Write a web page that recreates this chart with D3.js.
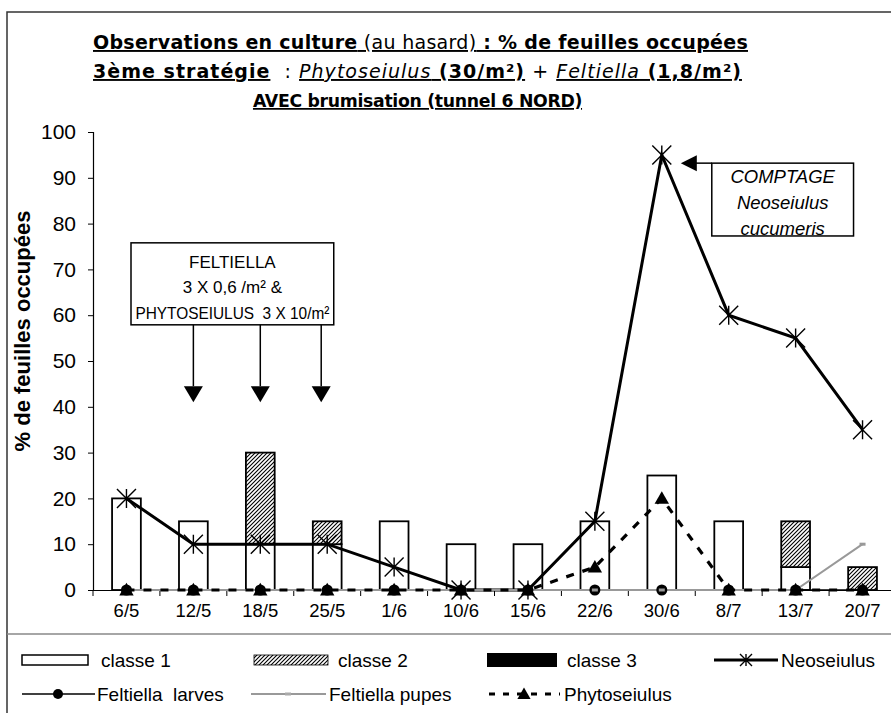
<!DOCTYPE html>
<html><head><meta charset="utf-8">
<script src="https://cdn.jsdelivr.net/npm/d3@7"></script>
<style>body{margin:0;background:#fff;} svg{display:block;} text{white-space:pre;}</style>
</head><body><svg id="chart" width="891" height="713"></svg>
<script>
// ---------- data ----------
const categories = ["6/5","12/5","18/5","25/5","1/6","10/6","15/6","22/6","30/6","8/7","13/7","20/7"];
const classe1 = [20,15,10,10,15,10,10,15,25,15,5,0];
const classe2 = [0,0,20,5,0,0,0,0,0,0,10,5];
const classe3 = [0,0,0,0,0,0,0,0,0,0,0,0];
const neoseiulus = [20,10,10,10,5,0,0,15,95,60,55,35];
const feltiellaLarves = [0,0,0,0,0,0,0,0,0,0,0,0];
const feltiellaPupes = [0,0,0,0,0,0,0,0,0,0,0,10];
const phytoseiulus = [0,0,0,0,0,0,0,5,20,0,0,0];
const yTicks = [0,10,20,30,40,50,60,70,80,90,100];
const legendLabels = ["classe 1","classe 2","classe 3","Neoseiulus","Feltiella  larves","Feltiella pupes","Phytoseiulus"];
const annotFeltiella = ["FELTIELLA","3 X 0,6 /m² &","PHYTOSEIULUS  3 X 10/m²"];
const annotFeltiellaDates = ["12/5","18/5","25/5"];
const annotComptage = ["COMPTAGE","Neoseiulus","cucumeris"];

// ---------- setup ----------
const svg = d3.select("#chart");
const FONT = "'Liberation Sans', Arial, sans-serif";
const plot = {left:93, right:896, top:132, bottom:590};
const x = d3.scaleBand().domain(categories).range([plot.left, plot.right]).paddingInner(0.57).paddingOuter(0.285);
const xb = d3.scaleBand().domain(categories).range([plot.left, plot.right]).padding(0);
const xc = c => xb(c) + xb.bandwidth()/2;
const y = d3.scaleLinear().domain([0,100]).range([plot.bottom, plot.top]);

const defs = svg.append("defs");
const pat = defs.append("pattern").attr("id","hatch").attr("patternUnits","userSpaceOnUse")
  .attr("width",4).attr("height",4);
pat.append("rect").attr("width",4).attr("height",4).attr("fill","#fff");
pat.append("path").attr("d","M-1,1 l2,-2 M0,4 l4,-4 M3,5 l2,-2").attr("stroke","#000").attr("stroke-width",1.1);

// frame
svg.append("rect").attr("x",7).attr("y",12).attr("width",950).attr("height",750)
  .attr("fill","none").attr("stroke","#333").attr("stroke-width",1.5);
svg.append("line").attr("x1",7).attr("x2",891).attr("y1",634).attr("y2",634)
  .attr("stroke","#888").attr("stroke-width",1.5);

// ---------- title ----------
const TFONT = "'DejaVu Sans', sans-serif";
const titleLines = [
  [["Observations en culture",700,"normal",true],[" (au hasard)",400,"normal",true],[" : % de feuilles occupées",700,"normal",true]],
  [["3ème stratégie",700,"normal",true],["  : ",400,"normal",false],["Phytoseiulus",400,"italic",true],[" (30/m²)",700,"normal",true],[" + ",400,"normal",false],["Feltiella",400,"italic",true],[" (1,8/m²)",700,"normal",true]],
  [["AVEC brumisation (tunnel 6 NORD)",700,"normal",true]]
];
const titleWidths = [655, 649, 329];
const titleCenters = [420.5, 417.5, 417.5];
const titleSizes = [19, 19, 17.3];
titleLines.forEach((parts,i)=>{
  const t = svg.append("text").attr("x",titleCenters[i]).attr("y",49+i*29).attr("text-anchor","middle")
    .attr("font-family",TFONT).attr("font-size",titleSizes[i]).attr("fill","#000");
  parts.forEach(p=>{
    t.append("tspan").text(p[0]).attr("font-weight",p[1]).attr("font-style",p[2])
      .attr("text-decoration",p[3]?"underline":"none");
  });
  const len = t.node().getComputedTextLength();
  const n = parts.map(p=>p[0]).join("").length;
  t.attr("letter-spacing", ((titleWidths[i]-len)/n).toFixed(2)+"px");
});

// ---------- bars ----------
const table = categories.map((c,i)=>({cat:c, classe1:classe1[i], classe2:classe2[i], classe3:classe3[i]}));
const stack = d3.stack().keys(["classe1","classe2","classe3"])(table);
const fills = {classe1:"#fff", classe2:"url(#hatch)", classe3:"#000"};
stack.forEach(layer=>{
  svg.append("g").selectAll("rect").data(layer.filter(d=>d[1]-d[0]>0)).join("rect")
    .attr("x",d=>x(d.data.cat)).attr("width",x.bandwidth())
    .attr("y",d=>y(d[1])).attr("height",d=>y(d[0])-y(d[1]))
    .attr("fill",fills[layer.key]).attr("stroke","#000").attr("stroke-width",1.8);
});

// ---------- axes ----------
const yAxis = svg.append("g").attr("transform",`translate(${plot.left},0)`)
  .call(d3.axisLeft(y).tickValues(yTicks).tickSize(5).tickPadding(12));
yAxis.select(".domain").attr("stroke","#000").attr("stroke-width",1.2);
yAxis.selectAll(".tick line").attr("stroke","#000");
yAxis.selectAll("text").attr("font-family",FONT).attr("font-size",21).attr("fill","#000");

const xAxis = svg.append("g").attr("transform",`translate(0,${plot.bottom})`)
  .call(d3.axisBottom(xb).tickSize(0).tickPadding(14).tickSizeOuter(0));
xAxis.select(".domain").attr("stroke","#000").attr("stroke-width",1.2);
xAxis.selectAll("text").attr("font-family",FONT).attr("font-size",18.5).attr("fill","#000");
svg.append("g").selectAll("line").data(categories).join("line")
  .attr("x1",c=>xb(c)).attr("x2",c=>xb(c)).attr("y1",plot.bottom).attr("y2",plot.bottom+6)
  .attr("stroke","#000").attr("stroke-width",1);

svg.append("text").attr("transform",`translate(30,331) rotate(-90)`)
  .attr("text-anchor","middle").attr("font-family",FONT).attr("font-weight","bold")
  .attr("font-size",22).text("% de feuilles occupées");

// ---------- lines ----------
const lineGen = vals => d3.line().x((d,i)=>xc(categories[i])).y(d=>y(d))(vals);
svg.append("path").attr("d",lineGen(neoseiulus)).attr("fill","none").attr("stroke","#000").attr("stroke-width",3);
svg.append("path").attr("d",lineGen(feltiellaLarves)).attr("fill","none").attr("stroke","#000").attr("stroke-width",1.5);
svg.append("path").attr("d",lineGen(feltiellaPupes)).attr("fill","none").attr("stroke","#999").attr("stroke-width",2);
svg.append("path").attr("d",lineGen(phytoseiulus)).attr("fill","none").attr("stroke","#000").attr("stroke-width",3.2).attr("stroke-dasharray","8,9");

// markers
function star(g,cx,cy,r){
  g.append("path").attr("d",`M${cx-r},${cy-r}L${cx+r},${cy+r}M${cx-r},${cy+r}L${cx+r},${cy-r}M${cx},${cy-r}L${cx},${cy+r}`)
   .attr("stroke","#000").attr("stroke-width",1.4).attr("fill","none");
}
function tri(g,cx,cy,s){
  g.append("path").attr("d",`M${cx},${cy-s*0.6}L${cx+s*0.6},${cy+s*0.45}L${cx-s*0.6},${cy+s*0.45}Z`).attr("fill","#000");
}
const mk = svg.append("g");
feltiellaLarves.forEach((v,i)=>mk.append("circle").attr("cx",xc(categories[i])).attr("cy",y(v)).attr("r",5.5).attr("fill","#000"));
feltiellaPupes.forEach((v,i)=>mk.append("rect").attr("x",xc(categories[i])-3).attr("y",y(v)-1.5).attr("width",6).attr("height",3).attr("fill","#999"));
phytoseiulus.forEach((v,i)=>tri(mk,xc(categories[i]),y(v),12));
neoseiulus.forEach((v,i)=>star(mk,xc(categories[i]),y(v),9.5));

// ---------- annotations ----------
const an = svg.append("g").attr("font-family",FONT).attr("fill","#000");
// Feltiella box
const b1 = {x0:xb("6/5")+38, x1:xb("25/5")+40, top:y(75.8), bottom:y(57.9)};
an.append("rect").attr("x",b1.x0).attr("y",b1.top).attr("width",b1.x1-b1.x0).attr("height",b1.bottom-b1.top)
  .attr("fill","#fff").attr("stroke","#000").attr("stroke-width",1.5);
annotFeltiella.forEach((t,i)=>{
  const tx = an.append("text").attr("x",(b1.x0+b1.x1)/2).attr("y",b1.top+25+i*25.5)
    .attr("text-anchor","middle").attr("font-size",17).text(t);
  if (i===2) tx.attr("textLength",194).attr("lengthAdjust","spacingAndGlyphs");
});
annotFeltiellaDates.forEach((c,i)=>{
  const ax = xc(c) - (i===2?6:0);
  an.append("line").attr("x1",ax).attr("x2",ax).attr("y1",b1.bottom).attr("y2",y(44.5)).attr("stroke","#000").attr("stroke-width",1.5);
  an.append("path").attr("d",`M${ax-9.5},${y(44.5)}L${ax+9.5},${y(44.5)}L${ax},${y(41)}Z`).attr("fill","#000");
});
// Comptage box
const b2 = {x0:xc("30/6")+50, x1:xc("20/7")-9, top:y(93.2), bottom:y(77.3)};
an.append("rect").attr("x",b2.x0).attr("y",b2.top).attr("width",b2.x1-b2.x0).attr("height",b2.bottom-b2.top)
  .attr("fill","#fff").attr("stroke","#000").attr("stroke-width",1.5);
annotComptage.forEach((t,i)=>an.append("text").attr("x",(b2.x0+b2.x1)/2).attr("y",b2.top+20+i*26)
  .attr("text-anchor","middle").attr("font-size",18.5).attr("font-style","italic").text(t));
const tipX = xc("30/6")+19;
an.append("line").attr("x1",b2.x0).attr("x2",tipX+14).attr("y1",b2.top).attr("y2",b2.top).attr("stroke","#000").attr("stroke-width",1.5);
an.append("path").attr("d",`M${tipX},${b2.top}L${tipX+16},${b2.top-8}L${tipX+16},${b2.top+8}Z`).attr("fill","#000");

// ---------- legend ----------
const lg = svg.append("g").attr("font-family",FONT).attr("font-size",19).attr("fill","#000");
const r1 = 660, r2 = 694;
lg.append("rect").attr("x",22).attr("y",r1-5).attr("width",66).attr("height",10).attr("fill","#fff").attr("stroke","#000").attr("stroke-width",1.5);
lg.append("text").attr("x",101).attr("y",r1+7).text(legendLabels[0]);
lg.append("rect").attr("x",254).attr("y",r1-5).attr("width",74).attr("height",10).attr("fill","url(#hatch)").attr("stroke","#000").attr("stroke-width",0.8);
lg.append("text").attr("x",338).attr("y",r1+7).text(legendLabels[1]);
lg.append("rect").attr("x",487).attr("y",r1-7).attr("width",70).attr("height",14).attr("fill","#000");
lg.append("text").attr("x",567).attr("y",r1+7).text(legendLabels[2]);
lg.append("line").attr("x1",714).attr("x2",778).attr("y1",r1).attr("y2",r1).attr("stroke","#000").attr("stroke-width",3);
star(lg,746,r1,6);
lg.append("text").attr("x",781).attr("y",r1+7).text(legendLabels[3]);

lg.append("line").attr("x1",22).attr("x2",95).attr("y1",r2).attr("y2",r2).attr("stroke","#000").attr("stroke-width",1.5);
lg.append("circle").attr("cx",58).attr("cy",r2).attr("r",5).attr("fill","#000");
lg.append("text").attr("x",97).attr("y",r2+7).text(legendLabels[4]);
lg.append("line").attr("x1",251).attr("x2",326).attr("y1",r2).attr("y2",r2).attr("stroke","#999").attr("stroke-width",2);
lg.append("rect").attr("x",285).attr("y",r2-1.5).attr("width",6).attr("height",3).attr("fill","#aaa");
lg.append("text").attr("x",329).attr("y",r2+7).text(legendLabels[5]);
lg.append("line").attr("x1",489).attr("x2",560).attr("y1",r2).attr("y2",r2).attr("stroke","#000").attr("stroke-width",3.2).attr("stroke-dasharray","6,8");
tri(lg,524,r2,11);
lg.append("text").attr("x",564).attr("y",r2+7).text(legendLabels[6]);
</script></body></html>
